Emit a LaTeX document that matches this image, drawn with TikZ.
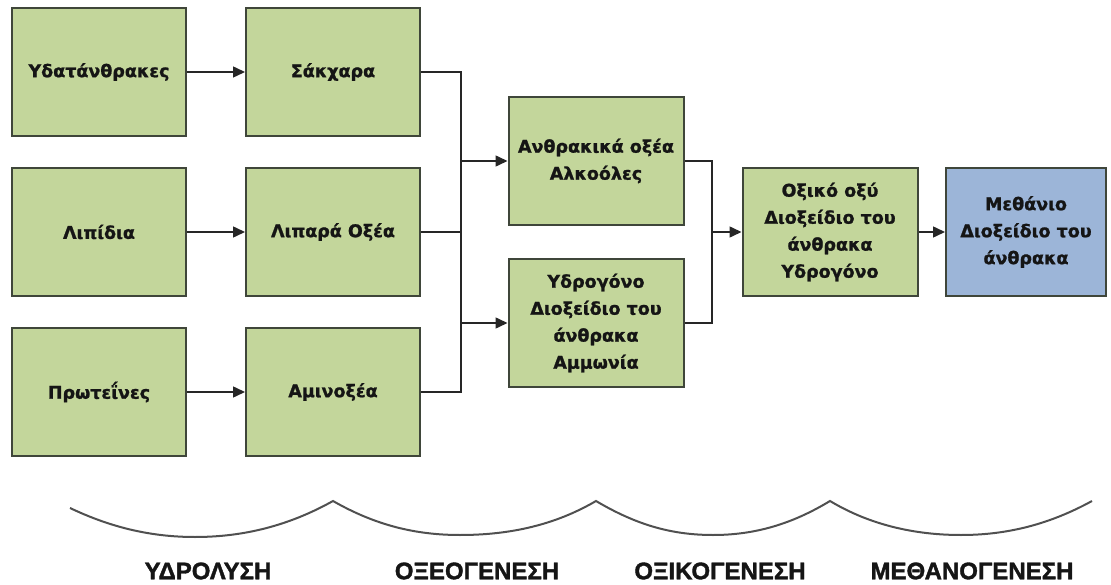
\documentclass[tikz,border=0pt]{standalone}
\usepackage{fontspec}
\setmainfont{Liberation Sans}
\newfontfamily\boxfont{DejaVu Sans Bold}[FakeBold=1.2]
\newfontfamily\phasefont{Liberation Sans Bold}[FakeBold=1.5]
\usetikzlibrary{arrows.meta}
\definecolor{boxgreen}{HTML}{C3D69B}
\definecolor{boxblue}{HTML}{9CB5D8}
\definecolor{boxline}{HTML}{3F463A}
\definecolor{txt}{HTML}{151515}
\definecolor{brace}{HTML}{505050}
\tikzset{
  stage/.style={draw=boxline, line width=2pt, fill=boxgreen, minimum width=174pt, minimum height=128pt,
    align=center, inner sep=2pt, text=txt, font=\boxfont\fontsize{17.5}{27}\selectfont},
  final/.style={stage, fill=boxblue, minimum width=160pt},
  link/.style={draw=black!85, line width=1.5pt},
  arr/.style={link, -{Triangle[length=12pt,width=11pt]}},
  bracecurve/.style={draw=brace, line width=2pt, line join=miter},
  phase/.style={text=txt, font=\phasefont\fontsize{24}{26}\selectfont, inner sep=0pt}
}
\begin{document}
\begin{tikzpicture}[x=1pt,y=-1pt]
\useasboundingbox (0,0) rectangle (1111,585);
% first column
\node[stage] (a1) at (99,72) {Υδατάνθρακες};
\node[stage] (a2) at (99,232) {Λιπίδια};
\node[stage] (a3) at (99,392) {Πρωτεΐνες};
% second column
\node[stage] (b1) at (333,72) {Σάκχαρα};
\node[stage] (b2) at (333,232) {Λιπαρά Οξέα};
\node[stage] (b3) at (333,392) {Αμινοξέα};
% third column
\node[stage, minimum width=175pt] (c1) at (596,161) {Ανθρακικά οξέα\\Αλκοόλες};
\node[stage, minimum width=175pt] (c2) at (596,323) {Υδρογόνο\\Διοξείδιο του\\άνθρακα\\Αμμωνία};
% fourth and fifth
\node[stage, minimum width=175pt] (d) at (830,232) {Οξικό οξύ\\Διοξείδιο του\\άνθρακα\\Υδρογόνο};
\node[final] (e) at (1026,232) {Μεθάνιο\\Διοξείδιο του\\άνθρακα};
% junction coordinates
\coordinate (j1) at (461,72);
\coordinate (j2) at (461,232);
\coordinate (j3) at (461,392);
\coordinate (k1) at (461,161);
\coordinate (k2) at (461,323);
\coordinate (m1) at (712,161);
\coordinate (m2) at (712,323);
\coordinate (m0) at (712,232);
% connectors
\draw[arr] (a1) -- (b1);
\draw[arr] (a2) -- (b2);
\draw[arr] (a3) -- (b3);
\draw[link] (b1.east) -- (j1) -- (j3) -- (b3.east);
\draw[link] (b2.east) -- (j2);
\draw[arr] (k1) -- (c1.west);
\draw[arr] (k2) -- (c2.west);
\draw[link] (c1.east) -- (m1) -- (m2) -- (c2.east);
\draw[arr] (m0) -- (d.west);
\draw[arr] (d) -- (e);
% phase curves
\coordinate (p0) at (70,508);
\coordinate (p1) at (333,501);
\coordinate (p2) at (596,501);
\coordinate (p3) at (830,501);
\coordinate (p4) at (1092,501);
\draw[bracecurve] (p0) .. controls (110,527) and (150,537) .. (195,537)
  .. controls (245,537) and (290,525) .. (p1)
  .. controls (375,525) and (415,535) .. (460,535)
  .. controls (510,535) and (555,525) .. (p2)
  .. controls (635,524) and (670,535) .. (713,535)
  .. controls (755,535) and (792,524) .. (p3)
  .. controls (870,525) and (915,535) .. (961,535)
  .. controls (1008,535) and (1050,524) .. (p4);
% phase labels
\node[phase] (l1) at (208,571) {ΥΔΡΟΛΥΣΗ};
\node[phase] (l2) at (477,571) {ΟΞΕΟΓΕΝΕΣΗ};
\node[phase] (l3) at (720,571) {ΟΞΙΚΟΓΕΝΕΣΗ};
\node[phase] (l4) at (972,571) {ΜΕΘΑΝΟΓΕΝΕΣΗ};
\end{tikzpicture}
\end{document}
